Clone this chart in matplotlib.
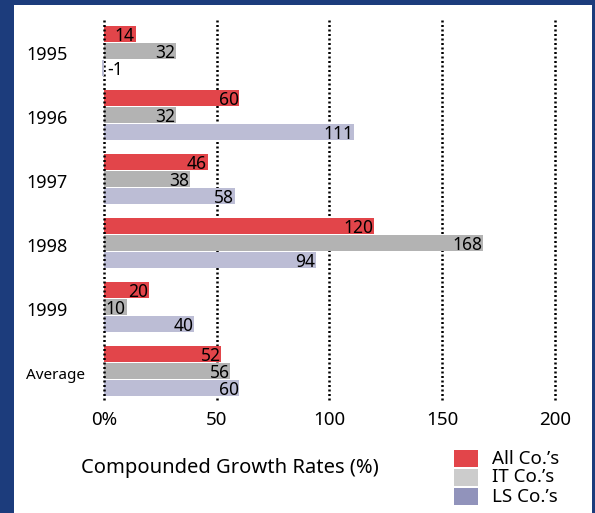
import matplotlib.pyplot as plt
import matplotlib.transforms as mtransforms
from matplotlib.patches import Rectangle

# данные
years = ['1995', '1996', '1997', '1998', '1999', 'Average']
all_cos = [14, 60, 46, 120, 20, 52]
it_cos = [32, 32, 38, 168, 10, 56]
ls_cos = [-1, 111, 58, 94, 40, 60]
series_names = ["All Co.\u2019s", "IT Co.\u2019s", "LS Co.\u2019s"]
xticks = [0, 50, 100, 150, 200]
xtick_labels = ['0%', '50', '100', '150', '200']

bar_colors = ['#e2454a', '#b3b3b3', '#bcbdd5']
legend_colors = ['#e2454a', '#cccccc', '#9193bb']
border_blue = '#1c3c7c'

plt.rcParams['font.family'] = ['Noto Sans', 'DejaVu Sans']

W, H = 595, 513
fig = plt.figure(figsize=(W / 100, H / 100), dpi=100, facecolor=border_blue)
fig.add_artist(Rectangle((14 / W, 0), (592 - 14) / W, (H - 5) / H,
                         transform=fig.transFigure, facecolor='white',
                         edgecolor='none', zorder=0))

ax = fig.add_axes([104 / W, 1 - 400 / H, 450.7 / W, 380 / H])
ax.set_facecolor('none')

step = 17 / 64
height = 16 / 64
for k, vals in enumerate([all_cos, it_cos, ls_cos]):
    for i, v in enumerate(vals):
        y = i + (k - 1) * step
        ax.barh(y, v, height=height, color=bar_colors[k],
                zorder=3.5 if v < 0 else 2, clip_on=False)
        ybase = y + height / 2 - 0.5 / 64
        if v < 0:
            ax.text(1.3, ybase, str(v), ha='left', va='baseline', fontsize=12.5, zorder=4)
        else:
            ax.text(v - 0.3, ybase, str(v), ha='right', va='baseline', fontsize=12.5, zorder=4)

# пунктирные линии сетки
for xv in xticks:
    ax.axvline(xv, color='black', linewidth=1.8, linestyle=(0, (0.8, 1.0)),
               zorder=3 if xv == 0 else 1, clip_on=False)

ax.set_xlim(0, 200)
ax.set_ylim(5 + 29.5 / 64, -30.5 / 64)
ax.set_xticks(xticks)
ax.set_xticklabels(xtick_labels, fontsize=13.5)
ax.tick_params(axis='x', length=0, pad=8)
ax.set_yticks([])
for s in ax.spines.values():
    s.set_visible(False)

# подписи лет слева
tr = mtransforms.blended_transform_factory(fig.transFigure, ax.transData)
for i, lab in enumerate(years):
    ax.text(26 / W, i + 5 / 64, lab, transform=tr, ha='left', va='center',
            fontsize=11 if lab == 'Average' else 13)

fig.text(230 / W, 1 - 468 / H, 'Compounded Growth Rates (%)',
         ha='center', va='center', fontsize=14.5)

# легенда
for k, name in enumerate(series_names):
    top = 450 + k * 19
    fig.add_artist(Rectangle((454 / W, 1 - (top + 17) / H), 24 / W, 17 / H,
                             transform=fig.transFigure, facecolor=legend_colors[k],
                             edgecolor='none'))
    fig.text(492 / W, 1 - (top + 8.5) / H, name, ha='left', va='center', fontsize=13.5)

fig.savefig('out.png', dpi=100, facecolor=border_blue)
